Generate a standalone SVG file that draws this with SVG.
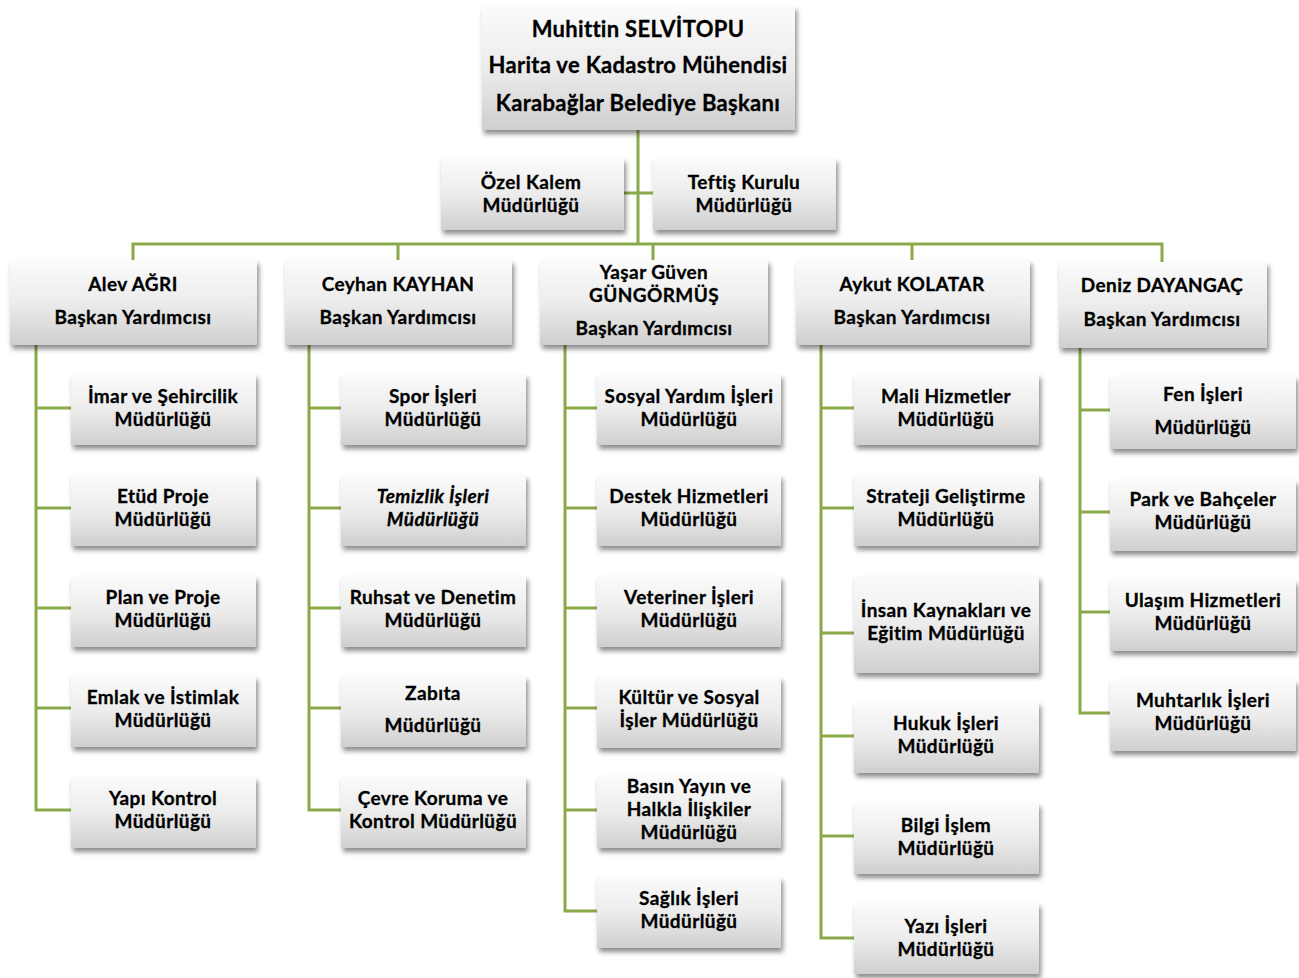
<svg xmlns="http://www.w3.org/2000/svg" width="1299" height="978" viewBox="0 0 1299 978">
<defs>
<linearGradient id="g" x1="0" y1="0" x2="0" y2="1">
<stop offset="0" stop-color="#fbfbfb"/>
<stop offset="0.5" stop-color="#ececec"/>
<stop offset="1" stop-color="#cfcfcf"/>
</linearGradient>
<filter id="sh" x="-10%" y="-10%" width="125%" height="140%">
<feDropShadow dx="2" dy="4" stdDeviation="2.5" flood-color="#000" flood-opacity="0.45"/>
</filter>
</defs>
<style>
.b{fill:url(#g);filter:url(#sh)}
text{font-family:Lato,"Liberation Sans",sans-serif;font-weight:bold;font-size:19px;letter-spacing:0.4px;fill:#000;stroke:#000;stroke-width:0.3;text-anchor:middle}
.t{font-size:22px;letter-spacing:0.3px}
.i{font-style:italic}
.c{fill:none;stroke:#8aaa4a;stroke-width:3}
</style>
<rect width="1299" height="978" fill="#fff"/>
<g id="connectors" class="c">
<path d="M638 130V244M624 193H653M133 260V244H1162V262M398 244V260M653 244V260M912 244V260"/>
<path d="M36 345V810H71M36 408H71M36 508H71M36 608H71M36 708H71"/>
<path d="M309 345V810H341M309 408H341M309 508H341M309 608H341M309 708H341"/>
<path d="M565 345V911H597M565 408H597M565 508H597M565 608H597M565 708H597M565 810H597"/>
<path d="M821 345V938H854M821 408H854M821 508H854M821 633H854M821 736H854M821 836H854"/>
<path d="M1080 348V713H1110M1080 410H1110M1080 512H1110M1080 612H1110"/>
</g>
<g id="mayor"><rect class="b" x="482" y="6" width="313" height="124"/>
<text class="t" x="638" y="37">Muhittin SELVİTOPU</text>
<text class="t" x="638" y="73">Harita ve Kadastro Mühendisi</text>
<text class="t" x="638" y="111">Karabağlar Belediye Başkanı</text></g>
<g id="ozel"><rect class="b" x="441" y="158" width="183" height="72"/>
<text x="531" y="189">Özel Kalem</text><text x="531" y="212">Müdürlüğü</text></g>
<g id="teftis"><rect class="b" x="653" y="158" width="183" height="72"/>
<text x="744" y="189">Teftiş Kurulu</text><text x="744" y="212">Müdürlüğü</text></g>
<g id="vp1"><rect class="b" x="10" y="260" width="247" height="85"/>
<text x="133" y="291">Alev AĞRI</text><text x="133" y="324">Başkan Yardımcısı</text></g>
<g id="vp2"><rect class="b" x="285" y="260" width="227" height="85"/>
<text x="398" y="291">Ceyhan KAYHAN</text><text x="398" y="324">Başkan Yardımcısı</text></g>
<g id="vp3"><rect class="b" x="540" y="260" width="228" height="85"/>
<text x="654" y="279">Yaşar Güven</text><text x="654" y="302">GÜNGÖRMÜŞ</text><text x="654" y="335">Başkan Yardımcısı</text></g>
<g id="vp4"><rect class="b" x="796" y="260" width="234" height="85"/>
<text x="912" y="291">Aykut KOLATAR</text><text x="912" y="324">Başkan Yardımcısı</text></g>
<g id="vp5"><rect class="b" x="1059" y="262" width="208" height="86"/>
<text x="1162" y="292">Deniz DAYANGAÇ</text><text x="1162" y="326">Başkan Yardımcısı</text></g>

<g id="c1a"><rect class="b" x="71" y="374" width="185" height="71"/><text x="163" y="403">İmar ve Şehircilik</text><text x="163" y="426">Müdürlüğü</text></g>
<g id="c1b"><rect class="b" x="71" y="475" width="185" height="71"/><text x="163" y="503">Etüd Proje</text><text x="163" y="526">Müdürlüğü</text></g>
<g id="c1c"><rect class="b" x="71" y="576" width="185" height="71"/><text x="163" y="604">Plan ve Proje</text><text x="163" y="627">Müdürlüğü</text></g>
<g id="c1d"><rect class="b" x="71" y="676" width="185" height="71"/><text x="163" y="704">Emlak ve İstimlak</text><text x="163" y="727">Müdürlüğü</text></g>
<g id="c1e"><rect class="b" x="71" y="777" width="185" height="71"/><text x="163" y="805">Yapı Kontrol</text><text x="163" y="828">Müdürlüğü</text></g>

<g id="c2a"><rect class="b" x="341" y="374" width="185" height="71"/><text x="433" y="403">Spor İşleri</text><text x="433" y="426">Müdürlüğü</text></g>
<g id="c2b"><rect class="b" x="341" y="475" width="185" height="71"/><text class="i" x="433" y="503">Temizlik İşleri</text><text class="i" x="433" y="526">Müdürlüğü</text></g>
<g id="c2c"><rect class="b" x="341" y="576" width="185" height="71"/><text x="433" y="604">Ruhsat ve Denetim</text><text x="433" y="627">Müdürlüğü</text></g>
<g id="c2d"><rect class="b" x="341" y="676" width="185" height="71"/><text x="433" y="700">Zabıta</text><text x="433" y="732">Müdürlüğü</text></g>
<g id="c2e"><rect class="b" x="341" y="777" width="185" height="71"/><text x="433" y="805">Çevre Koruma ve</text><text x="433" y="828">Kontrol Müdürlüğü</text></g>

<g id="c3a"><rect class="b" x="597" y="374" width="184" height="71"/><text x="689" y="403">Sosyal Yardım İşleri</text><text x="689" y="426">Müdürlüğü</text></g>
<g id="c3b"><rect class="b" x="597" y="475" width="184" height="71"/><text x="689" y="503">Destek Hizmetleri</text><text x="689" y="526">Müdürlüğü</text></g>
<g id="c3c"><rect class="b" x="597" y="576" width="184" height="71"/><text x="689" y="604">Veteriner İşleri</text><text x="689" y="627">Müdürlüğü</text></g>
<g id="c3d"><rect class="b" x="597" y="677" width="184" height="71"/><text x="689" y="704">Kültür ve Sosyal</text><text x="689" y="727">İşler Müdürlüğü</text></g>
<g id="c3e"><rect class="b" x="597" y="776" width="184" height="72"/><text x="689" y="793">Basın Yayın ve</text><text x="689" y="816">Halkla İlişkiler</text><text x="689" y="839">Müdürlüğü</text></g>
<g id="c3f"><rect class="b" x="597" y="877" width="184" height="71"/><text x="689" y="905">Sağlık İşleri</text><text x="689" y="928">Müdürlüğü</text></g>

<g id="c4a"><rect class="b" x="854" y="374" width="185" height="71"/><text x="946" y="403">Mali Hizmetler</text><text x="946" y="426">Müdürlüğü</text></g>
<g id="c4b"><rect class="b" x="854" y="475" width="185" height="71"/><text x="946" y="503">Strateji Geliştirme</text><text x="946" y="526">Müdürlüğü</text></g>
<g id="c4c"><rect class="b" x="854" y="576" width="185" height="97"/><text x="946" y="617">İnsan Kaynakları ve</text><text x="946" y="640">Eğitim Müdürlüğü</text></g>
<g id="c4d"><rect class="b" x="854" y="702" width="185" height="71"/><text x="946" y="730">Hukuk İşleri</text><text x="946" y="753">Müdürlüğü</text></g>
<g id="c4e"><rect class="b" x="854" y="803" width="185" height="71"/><text x="946" y="832">Bilgi İşlem</text><text x="946" y="855">Müdürlüğü</text></g>
<g id="c4f"><rect class="b" x="854" y="903" width="185" height="71"/><text x="946" y="933">Yazı İşleri</text><text x="946" y="956">Müdürlüğü</text></g>

<g id="c5a"><rect class="b" x="1110" y="376" width="186" height="73"/><text x="1203" y="401">Fen İşleri</text><text x="1203" y="434">Müdürlüğü</text></g>
<g id="c5b"><rect class="b" x="1110" y="480" width="186" height="71"/><text x="1203" y="506">Park ve Bahçeler</text><text x="1203" y="529">Müdürlüğü</text></g>
<g id="c5c"><rect class="b" x="1110" y="580" width="186" height="71"/><text x="1203" y="607">Ulaşım Hizmetleri</text><text x="1203" y="630">Müdürlüğü</text></g>
<g id="c5d"><rect class="b" x="1110" y="680" width="186" height="71"/><text x="1203" y="707">Muhtarlık İşleri</text><text x="1203" y="730">Müdürlüğü</text></g>
</svg>
